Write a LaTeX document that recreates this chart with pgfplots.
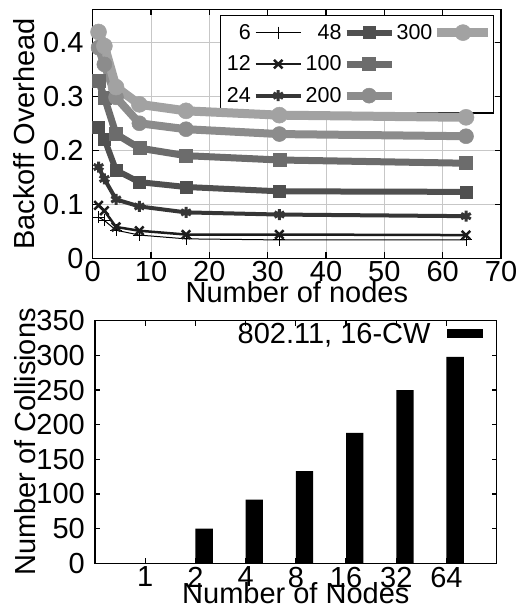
\documentclass[border=0pt]{standalone}
\usepackage{fontspec}
\setmainfont{Liberation Sans}
\usepackage{pgfplots}
\pgfplotsset{compat=1.18}

\definecolor{c12}{HTML}{1C1C1C}
\definecolor{c24}{HTML}{363636}
\definecolor{c48}{HTML}{505050}
\definecolor{c100}{HTML}{6C6C6C}
\definecolor{c200}{HTML}{8C8C8C}
\definecolor{c300}{HTML}{A2A2A2}

% legend sample: line of given length, mark in the middle, fixed box
\newcommand\legline[2]{%
  \draw[overlay, mark repeat=2, mark phase=2, #1]
    plot coordinates {(0pt,0pt) (#2/2,0pt) (#2,0pt)};
  \path[draw=none, fill=none] (0pt,-8pt) rectangle (#2,8pt);}

\pgfplotsset{
  s6/.style={black, line width=1pt, mark=+, mark size=6pt, mark options={solid}},
  s12/.style={c12, line width=2.5pt, mark=x, mark size=6pt, mark options={solid}},
  s24/.style={c24, line width=4pt, mark=asterisk, mark size=5.5pt, mark options={solid, line width=3pt}},
  s48/.style={c48, line width=6pt, mark=square*, mark size=6pt, mark options={solid, line width=0.5pt}},
  s100/.style={c100, line width=7pt, mark=square*, mark size=6.5pt, mark options={solid, line width=0.5pt}},
  s200/.style={c200, line width=8pt, mark=*, mark size=7.5pt, mark options={solid, line width=0.5pt}},
  s300/.style={c300, line width=9pt, mark=*, mark size=8pt, mark options={solid, line width=0.5pt}},
  shortsample/.style={legend image code/.code={\legline{##1}{45pt}}},
  longsample/.style={legend image code/.code={\legline{##1}{51pt}}},
  common/.style={
    scale only axis,
    /pgf/number format/assume math mode=true,
    tick align=inside,
    major tick length=6pt,
    axis line style={line width=1.2pt},
    every tick/.style={black, line width=1.2pt},
    tick label style={font=\fontsize{29}{30}\selectfont},
    label style={font=\fontsize{29}{30}\selectfont},
    xticklabel style={inner sep=0pt, yshift=-2.5pt},
    yticklabel style={inner sep=0pt, xshift=-9pt},
  },
  toppos/.style={
    at={(92.7pt,-258.3pt)}, anchor=south west,
    scale only axis, width=408.3pt, height=249pt,
    xmin=0, xmax=70, ymin=0, ymax=0.461,
  },
}

\begin{document}
\begin{tikzpicture}
\useasboundingbox (0,0) rectangle (530pt,-609pt);

% upper panel: frame, grid and legend
\begin{axis}[common, toppos,
  xtick={0,10,...,70}, ytick={0,0.1,0.2,0.3,0.4},
  grid=major, major grid style={draw=black!22, line width=0.8pt},
  xlabel={Number of nodes}, ylabel={Backoff Overhead},
  xlabel style={at={(axis description cs:0.5,-0.137)}, anchor=center},
  ylabel style={at={(axis description cs:-0.169,0.5)}, anchor=center},
  legend columns=3,
  legend plot pos=right,
  legend cell align=right,
  shortsample,
  legend style={at={(axis description cs:0.983,0.978)}, anchor=north east,
    font=\fontsize{21.5}{22}\selectfont, draw=black, line width=1.2pt, fill=white,
    inner xsep=5pt, inner ysep=8pt, column sep=4pt, row sep=13pt,
    nodes={inner sep=1pt}},
]
\addlegendimage{s6}\addlegendentry{6}
\addlegendimage{s48}\addlegendentry{48}
\addlegendimage{s300, longsample}\addlegendentry{300}
\addlegendimage{s12}\addlegendentry{12}
\addlegendimage{s100}\addlegendentry{100}
\addlegendimage{empty legend}\addlegendentry{}
\addlegendimage{s24}\addlegendentry{24}
\addlegendimage{s200}\addlegendentry{200}
\addlegendimage{empty legend}\addlegendentry{}
\end{axis}

% upper panel: the curves, drawn over the legend
\begin{axis}[toppos, hide axis, clip=false]
\addplot[s6] coordinates {(1,0.076) (2,0.070) (4,0.052) (8,0.043) (16,0.036) (32,0.034) (64,0.034)};
\addplot[s12] coordinates {(1,0.098) (2,0.088) (4,0.058) (8,0.051) (16,0.044) (32,0.044) (64,0.043)};
\addplot[s24] coordinates {(1,0.169) (2,0.147) (4,0.109) (8,0.096) (16,0.085) (32,0.081) (64,0.078)};
\addplot[s48] coordinates {(1,0.242) (2,0.221) (4,0.163) (8,0.141) (16,0.132) (32,0.124) (64,0.123)};
\addplot[s100] coordinates {(1,0.328) (2,0.298) (4,0.230) (8,0.204) (16,0.190) (32,0.182) (64,0.176)};
\addplot[s200] coordinates {(1,0.390) (2,0.359) (4,0.298) (8,0.250) (16,0.239) (32,0.230) (64,0.226)};
\addplot[s300] coordinates {(1,0.419) (2,0.393) (4,0.317) (8,0.285) (16,0.273) (32,0.265) (64,0.261)};
\end{axis}

% lower panel: collisions
\begin{axis}[common,
  at={(95pt,-563.3pt)}, anchor=south west,
  width=401.7pt, height=242.6pt,
  xmin=-1, xmax=7, ymin=0, ymax=350,
  xtick={0,...,6}, xticklabels={1,2,4,8,16,32,64},
  ytick={0,50,...,350},
  major tick length=5pt,
  yticklabel style={xshift=-1pt},
  xticklabel style={yshift=-1pt},
  xlabel={Number of Nodes}, ylabel={Number of Collisions},
  xlabel style={at={(axis description cs:0.5,-0.125)}, anchor=center},
  ylabel style={at={(axis description cs:-0.174,0.5)}, anchor=center},
  legend image code/.code={\fill[black] (0pt,-4.5pt) rectangle (36pt,4.5pt);},
  legend plot pos=right,
  legend style={at={(axis description cs:0.9652,0.946)}, anchor=east,
    font=\fontsize{29}{30}\selectfont, draw=none, fill=none,
    inner sep=0pt, column sep=16pt, nodes={inner sep=0pt}},
]
\addplot[ybar, bar width=0.345, bar shift=0.1725, fill=black, draw=none]
  coordinates {(0,0) (1,50) (2,92) (3,133) (4,188) (5,250) (6,298)};
\addlegendentry{802.11, 16-CW}
\end{axis}
\end{tikzpicture}
\end{document}
